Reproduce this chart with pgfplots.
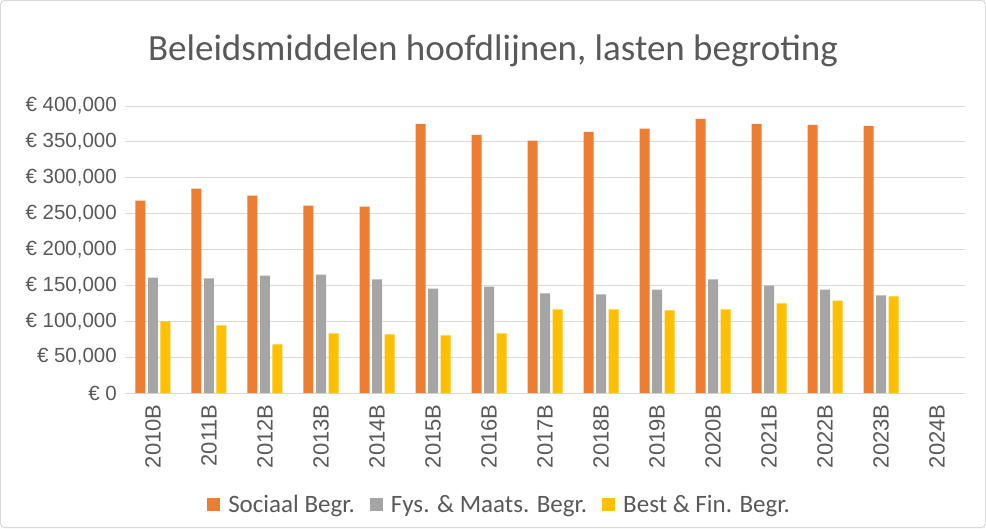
\documentclass[border=0pt]{standalone}
\usepackage{pgfplots}
\pgfplotsset{compat=1.18}
\usepackage{fontspec}
\setmainfont{Carlito}
\newfontfamily\tickfont{Liberation Sans}
\definecolor{txt}{HTML}{595959}
\definecolor{gridc}{HTML}{D9D9D9}
\definecolor{cOrange}{HTML}{ED7D31}
\definecolor{cGray}{HTML}{A5A5A5}
\definecolor{cYellow}{HTML}{FFC000}
\begin{document}
\begin{tikzpicture}[x=1pt,y=1pt]
\begin{axis}[
  scale only axis, width=840pt, height=287pt,
  at={(0,0)}, anchor=south west,
  ymin=0, ymax=400000, ytick={0,50000,...,400000},
  scaled y ticks=false,
  xmin=-0.5, xmax=14.5, xtick={0,...,14},
  xticklabels={2010B,2011B,2012B,2013B,2014B,2015B,2016B,2017B,2018B,2019B,2020B,2021B,2022B,2023B,2024B},
  ybar=2.5pt, bar width=10pt,
  ymajorgrids, grid style={draw=gridc, line width=1pt},
  axis line style={draw=none}, tick style={draw=none},
  yticklabel={\tickfont €\ \pgfmathprintnumber[assume math mode=true,fixed,1000 sep={,}]{\tick}},
  yticklabel style={font=\fontsize{20.5}{24}\selectfont, text=txt, inner sep=0pt, anchor=east, xshift=-8pt},
  xticklabel style={font=\tickfont\fontsize{22}{26}\selectfont, text=txt, rotate=90, anchor=east, inner sep=0pt, xshift=-7pt},
  legend style={at={(0.446,-0.39)}, anchor=center, draw=none, legend columns=3,
    font=\fontsize{25}{30}\selectfont, text=txt, fill=none,
    /tikz/every odd column/.append style={column sep=6pt},
    /tikz/every even column/.append style={column sep=13pt}},
  legend image code/.code={\fill[#1] (0pt,-6.5pt) rectangle (13pt,6.5pt);},
]
\addplot[fill=cOrange, draw=none] coordinates {
(0,268100) (1,284800) (2,275000) (3,261100) (4,259700) (5,375200) (6,359900) (7,351600)
(8,364100) (9,368300) (10,382200) (11,375200) (12,373800) (13,372400)};
\addplot[fill=cGray, draw=none] coordinates {
(0,160900) (1,159600) (2,163700) (3,165100) (4,158200) (5,145600) (6,148400) (7,138700)
(8,137300) (9,144200) (10,158200) (11,149800) (12,144200) (13,135900)};
\addplot[fill=cYellow, draw=none] coordinates {
(0,99700) (1,94200) (2,67700) (3,83000) (4,81600) (5,80200) (6,83000) (7,116400)
(8,116400) (9,115000) (10,116400) (11,124800) (12,128900) (13,134500)};
\legend{Sociaal Begr.,Fys. \& Maats. Begr.,Best \& Fin. Begr.}
\end{axis}
\node[font=\fontsize{37}{44}\selectfont, text=txt] at (368,342) {Beleidsmiddelen hoofdlijnen, lasten begroting};
\draw[gridc, line width=1pt, rounded corners=4pt] (-124.5,-134.5) rectangle (860.5,392.5);
\pgfresetboundingbox
\useasboundingbox (-125,-135) rectangle (861,393);
\end{tikzpicture}
\end{document}
